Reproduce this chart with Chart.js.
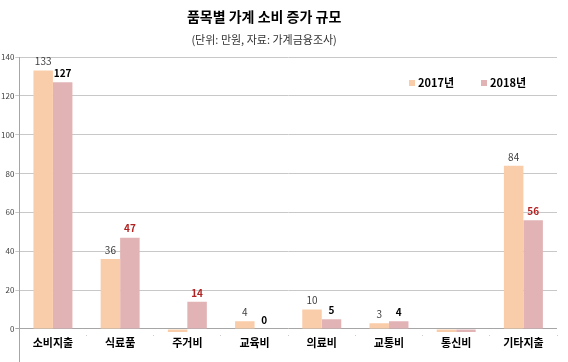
<!DOCTYPE html>
<html>
  <head>
    <meta charset="utf-8" />
    <title>품목별 가계 소비 증가 규모</title>
    <script src="https://cdn.jsdelivr.net/npm/chart.js@4/dist/chart.umd.min.js"></script>
    <style>
      body { margin: 0; background: #fff; }
      #wrap { width: 568px; height: 362px; }
    </style>
    <script>
      // data (만원)
      var categories = ["소비지출", "식료품", "주거비", "교육비", "의료비", "교통비", "통신비", "기타지출"];
      var values2017 = [133, 36, -1.5, 4, 10, 3, -1.5, 84];
      var values2018 = [127, 47, 14, 0, 5, 4, -1.5, 56];
      var seriesNames = ["2017년", "2018년"];
      var yTickValues = [0, 20, 40, 60, 80, 100, 120, 140];

      // 2018 label colours (some are highlighted red in the original)
      var labelColors2018 = ["#000000", "#B22222", "#B22222", "#000000", "#000000", "#000000", "#000000", "#B22222"];

      var chartTitle = "품목별 가계 소비 증가 규모";
      var chartSubtitle = "(단위: 만원, 자료: 가계금융조사)";
    </script>
  </head>
  <body>
    <div id="wrap"><canvas id="chart"></canvas></div>
    <script>
      var FONT = "'Noto Sans CJK KR', 'Noto Sans', sans-serif";

      // titles sit a bit left of centre in the original
      var titles = {
        id: "titles",
        afterDraw: function (chart) {
          var ctx = chart.ctx;
          var cx = chart.width * 0.465;
          ctx.save();
          ctx.textAlign = "center";
          ctx.textBaseline = "middle";
          ctx.fillStyle = "#000";
          ctx.font = "bold 14px " + FONT;
          ctx.fillText(chartTitle, cx, 17);
          ctx.fillStyle = "#333";
          ctx.font = "11px " + FONT;
          ctx.fillText(chartSubtitle, cx, 40);
          ctx.restore();
        }
      };

      // value labels above the bars, negatives get none
      var barLabels = {
        id: "barLabels",
        afterDatasetsDraw: function (chart) {
          var ctx = chart.ctx;
          ctx.save();
          ctx.textAlign = "center";
          ctx.textBaseline = "middle";
          chart.data.datasets.forEach(function (ds, di) {
            var meta = chart.getDatasetMeta(di);
            meta.data.forEach(function (bar, i) {
              var v = ds.data[i];
              if (v < 0) return;
              if (di === 0) {
                ctx.font = "10px " + FONT;
                ctx.fillStyle = "#404040";
              } else {
                ctx.font = "bold 10px " + FONT;
                ctx.fillStyle = labelColors2018[i];
              }
              ctx.fillText(String(v), bar.x, bar.y - 9);
            });
          });
          ctx.restore();
        }
      };

      // legend drawn inside the plot, top right
      var innerLegend = {
        id: "innerLegend",
        afterDraw: function (chart) {
          var ctx = chart.ctx;
          var a = chart.chartArea;
          var y = a.top + 26;
          var xs = [a.right - 148, a.right - 76];
          ctx.save();
          ctx.textBaseline = "middle";
          ctx.font = "bold 11px " + FONT;
          chart.data.datasets.forEach(function (ds, i) {
            ctx.fillStyle = ds.backgroundColor;
            ctx.fillRect(xs[i], y - 3, 6, 6);
            ctx.fillStyle = "#000";
            ctx.fillText(ds.label, xs[i] + 9, y);
          });
          ctx.restore();
        }
      };

      // y axis line runs down past the category labels
      var axisTail = {
        id: "axisTail",
        afterDraw: function (chart) {
          var ctx = chart.ctx;
          var a = chart.chartArea;
          ctx.save();
          ctx.strokeStyle = "#a6a6a6";
          ctx.lineWidth = 1;
          ctx.beginPath();
          ctx.moveTo(Math.round(a.left) + 0.5, a.bottom);
          ctx.lineTo(Math.round(a.left) + 0.5, chart.height);
          ctx.stroke();
          ctx.restore();
        }
      };

      new Chart(document.getElementById("chart"), {
        type: "bar",
        data: {
          labels: categories,
          datasets: [
            { label: seriesNames[0], data: values2017, backgroundColor: "#FACDAA" },
            { label: seriesNames[1], data: values2018, backgroundColor: "#E2B3B5" }
          ]
        },
        options: {
          responsive: true,
          maintainAspectRatio: false,
          animation: false,
          datasets: { bar: { categoryPercentage: 0.58, barPercentage: 1.0 } },
          layout: { padding: { left: 0, right: 11, top: 57, bottom: 13 } },
          plugins: {
            legend: { display: false },
            tooltip: { enabled: false }
          },
          scales: {
            x: {
              border: { display: false },
              grid: { display: true, drawOnChartArea: false, drawTicks: true, tickLength: 1, color: "#bfbfbf", offset: true },
              ticks: {
                color: "#000",
                padding: 0,
                font: { family: FONT, size: 11, weight: "bold" }
              }
            },
            y: {
              min: -3,
              max: 140,
              afterBuildTicks: function (scale) {
                scale.ticks = yTickValues.map(function (v) { return { value: v }; });
              },
              border: { display: true, color: "#a6a6a6" },
              grid: {
                color: function (c) { return c.tick && c.tick.value === 0 ? "#a6a6a6" : "#c8c8c8"; },
                tickLength: 4
              },
              ticks: {
                color: "#404040",
                padding: 1,
                font: { family: FONT, size: 8 }
              }
            }
          }
        },
        plugins: [titles, barLabels, innerLegend, axisTail]
      });
    </script>
  </body>
</html>
